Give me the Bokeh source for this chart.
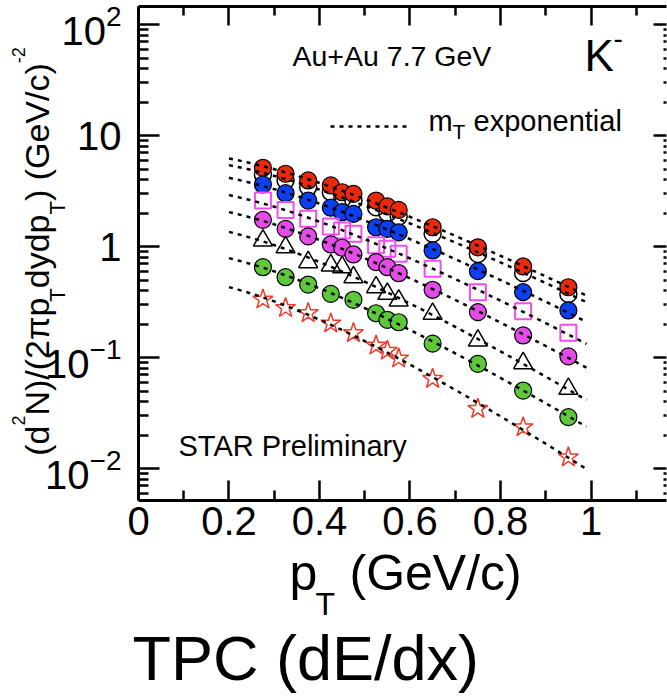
import numpy as np
from bokeh.plotting import figure
from bokeh.models import (Range1d, FixedTicker, LogAxis, LinearAxis, Label, Arrow,
                          CustomJSTickFormatter, LogTickFormatter)
from bokeh.embed import file_html
from bokeh.resources import INLINE

# K- transverse-momentum spectra, Au+Au 7.7 GeV, one row per centrality class
pt = [0.275, 0.325, 0.375, 0.425, 0.45, 0.475, 0.525, 0.55, 0.575, 0.65, 0.75, 0.85, 0.95]
pt_b = [0.275, 0.325, 0.375, 0.425, 0.475, 0.525, 0.55, 0.575, 0.65, 0.75, 0.85, 0.95]

y_red = [5.15, 4.55, 3.96, 3.57, 3.10, 3.00, 2.61, 2.31, 2.15, 1.50, 0.99, 0.665, 0.432]
y_open = [4.48, 3.96, 3.45, 3.11, 2.70, 2.61, 2.27, 2.01, 1.87, 1.31, 0.86, 0.58, 0.376]
y_blue = [3.64, 3.04, 2.61, 2.25, 2.05, 1.98, 1.50, 1.45, 1.35, 0.927, 0.603, 0.390, 0.267]
y_sq = [2.61, 2.15, 1.79, 1.52, 1.40, 1.31, 1.03, 0.96, 0.865, 0.634, 0.390, 0.263, 0.168]
y_mag = [1.75, 1.45, 1.24, 1.05, 0.98, 0.853, 0.727, 0.655, 0.578, 0.410, 0.258, 0.159, 0.103]
y_tri = [1.14, 0.99, 0.727, 0.679, 0.655, 0.532, 0.432, 0.377, 0.328, 0.249, 0.143, 0.0894, 0.0526]
y_green = [0.655, 0.532, 0.457, 0.377, 0.333, 0.252, 0.220, 0.209, 0.134, 0.0883, 0.0507, 0.0292]
y_star = [0.335, 0.281, 0.253, 0.204, 0.167, 0.129, 0.116, 0.0986, 0.0647, 0.0347, 0.0237, 0.0127]

x_major = [0, 0.2, 0.4, 0.6, 0.8, 1.0]
x_minor = [0.1, 0.3, 0.5, 0.7, 0.9, 1.1]
y_major = [0.01, 0.1, 1, 10, 100]

# plot box in data units; the canvas extends past it on every side
X_LO, X_HI = 0.0, 1.1669
Y_LO, Y_HI = 0.005181, 144.7
y_minor = [m * d for d in (0.001, 0.01, 0.1, 1, 10, 100) for m in range(2, 10)
           if Y_LO < m * d < Y_HI]

M_K = 0.4937
FIT_PT = np.linspace(0.2, 0.99, 80)


def mt_exponential(x, y):
    """Fit A*exp(-(mT-m)/T) to a spectrum and evaluate it on FIT_PT."""
    x = np.asarray(x, float)
    mt = np.sqrt(x ** 2 + M_K ** 2) - M_K
    slope, icpt = np.polyfit(mt, np.log(np.asarray(y, float)), 1)
    mtg = np.sqrt(FIT_PT ** 2 + M_K ** 2) - M_K
    return np.exp(icpt + slope * mtg)


FONT = "Liberation Sans"
W, H = 667, 699

# the frame fills the canvas; axes sit at fixed places around the plot box
p = figure(width=W, height=H, x_range=Range1d(-0.30497, 1.16906),
           y_range=Range1d(10 ** -4.0784, 10 ** 2.2189),
           y_axis_type="log", output_backend="svg", toolbar_location=None,
           min_border=0, min_border_left=0, min_border_right=0,
           min_border_top=0, min_border_bottom=0)
p.grid.visible = False
p.outline_line_color = None
p.background_fill_color = "white"
p.border_fill_color = "white"


def style_axis(ax, major_in, minor_in, font_size="40px", standoff=4):
    ax.major_tick_in = major_in
    ax.major_tick_out = 0
    ax.minor_tick_in = minor_in
    ax.minor_tick_out = 0
    ax.major_tick_line_width = 2.5
    ax.minor_tick_line_width = 2.5
    ax.major_tick_line_color = "black"
    ax.minor_tick_line_color = "black"
    ax.axis_line_width = 3
    ax.axis_line_color = "black"
    ax.major_label_text_font = FONT
    ax.major_label_text_font_size = font_size
    ax.major_label_text_color = "black"
    ax.major_label_standoff = standoff


xa = p.xaxis[0]
xa.ticker = FixedTicker(ticks=x_major, minor_ticks=x_minor)
xa.formatter = CustomJSTickFormatter(code="return (Math.round(tick * 10) / 10).toString()")
xa.fixed_location = Y_LO
xa.bounds = (X_LO, X_HI)
style_axis(xa, 20, 10, standoff=7)

ya = p.yaxis[0]
ya.ticker = FixedTicker(ticks=y_major, minor_ticks=y_minor)
ya.formatter = LogTickFormatter(min_exponent=0)
ya.major_label_overrides = {1: "1", 10: "10"}
ya.fixed_location = X_LO
ya.bounds = (Y_LO, Y_HI)
style_axis(ya, 21, 10, standoff=17)

blank = CustomJSTickFormatter(code="return ''")
top = LinearAxis(ticker=FixedTicker(ticks=x_major, minor_ticks=x_minor), formatter=blank,
                 fixed_location=Y_HI, bounds=(X_LO, X_HI))
style_axis(top, 19, 9, font_size="0px", standoff=0)
p.add_layout(top, "above")

right = LogAxis(ticker=FixedTicker(ticks=y_major, minor_ticks=y_minor), formatter=blank,
                fixed_location=X_HI, bounds=(Y_LO, Y_HI))
style_axis(right, 13, 3, font_size="0px", standoff=0)
right.axis_line_color = None
p.add_layout(right, "right")

# markers
RED, BLUE, MAG, GREEN = "#e8290b", "#0b3ff0", "#e44be8", "#5dc83a"
p.scatter(pt, y_open, marker="circle", size=17, fill_color=None, line_color="black", line_width=1.5)
p.scatter(pt, y_red, marker="circle", size=17, fill_color=RED, line_color="black", line_width=1.2)
p.scatter(pt, y_blue, marker="circle", size=17, fill_color=BLUE, line_color="black", line_width=1.2)
p.scatter(pt, y_sq, marker="square", size=16, fill_color=None, line_color="#f04cf0", line_width=2)
p.scatter(pt, y_mag, marker="circle", size=17, fill_color=MAG, line_color="black", line_width=1.2)
p.scatter(pt, y_tri, marker="triangle", size=19, fill_color=None, line_color="black", line_width=1.5)
p.scatter(pt_b, y_green, marker="circle", size=17, fill_color=GREEN, line_color="black", line_width=1.2)
p.scatter(pt_b, y_star, marker="star", size=21, fill_color=None, line_color="#f23a2a", line_width=1.5)

# m_T exponential fits, drawn over the points
for xs, ys in [(pt, y_red), (pt, y_open), (pt, y_blue), (pt, y_sq), (pt, y_mag),
               (pt, y_tri), (pt_b, y_green), (pt_b, y_star)]:
    p.line(FIT_PT, mt_exponential(xs, ys), line_color="black", line_width=2.5, line_dash="4 5")

# Label anchors sit about 0.42 em above the drawn baseline
BASE_SHIFT = 0.42


def page_label(X, Y, text, size, rotated=False, color="black"):
    """Place text by its baseline start on the page (pixels from the top-left)."""
    d = BASE_SHIFT * size
    if rotated:
        X, angle = X - d, np.pi / 2
    else:
        Y, angle = Y - d, 0.0
    p.add_layout(Label(x=X, y=H - Y, x_units="screen", y_units="screen", text=text,
                       text_font=FONT, text_font_size=f"{size}px", angle=angle,
                       text_align="left", text_baseline="alphabetic", text_color=color))


page_label(292, 67, "Au+Au 7.7 GeV", 28.5)
page_label(584, 73, "K", 44)
page_label(613, 50, "-", 28)
page_label(428, 133, "m", 29)
page_label(452, 140, "T", 21)
page_label(473, 133, "exponential", 29)
p.add_layout(Arrow(end=None, x_start=330, y_start=H - 126, x_end=410, y_end=H - 126,
                   start_units="screen", end_units="screen", line_color="black",
                   line_width=2.5, line_dash="4 5"))
page_label(178, 458, "STAR Preliminary", 29)

# x-axis title
page_label(289, 593, "p", 50)
page_label(315, 617, "T", 32)
page_label(349, 593, "(GeV/c)", 50)

# caption
page_label(132, 684, "TPC (dE/dx)", 63)

# rotated y-axis title, assembled piece by piece along the vertical
ADV = {" ": 278, "(": 333, ")": 333, "/": 278, "-": 333, "2": 556, "N": 722, "p": 556,
       "d": 556, "y": 500, "G": 778, "e": 556, "V": 667, "c": 500, "T": 611, "\u03c0": 570}


def advance(text, size):
    return sum(ADV.get(ch, 556) for ch in text) * size / 1000.0


pieces = [("(d", 34, 51), ("2", 18, 26), ("N)/(2\u03c0p", 34, 51), ("T", 22, 66),
          ("dydp", 34, 51), ("T", 22, 66), (") (GeV/c)", 34, 51), ("-2", 18, 26)]
total = sum(advance(t, s) for t, s, _ in pieces)
ycur = 251 + total / 2
for t, s, xb in pieces:
    page_label(xb, ycur, t, s, rotated=True)
    ycur -= advance(t, s)

open("out.html", "w").write(file_html(p, INLINE))
